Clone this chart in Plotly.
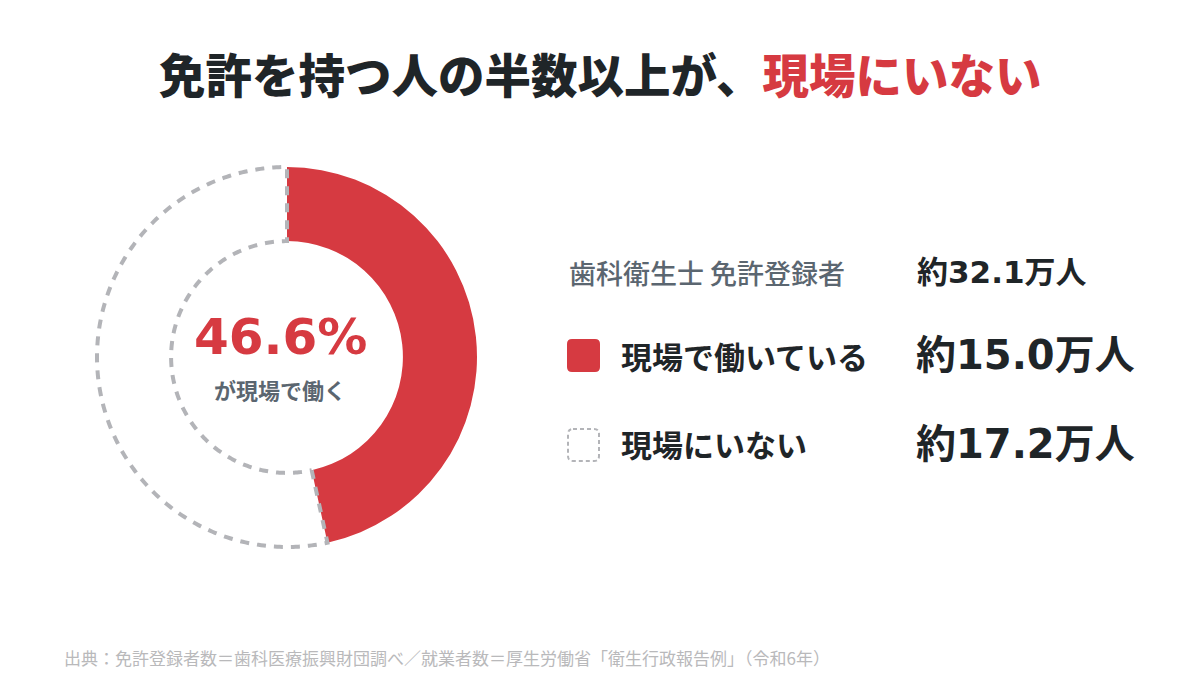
import numpy as np
import plotly.graph_objects as go

# ---- data ----
categories = ["現場で働いている", "現場にいない"]
values = [15.0, 17.2]                 # 万人
total_label = "歯科衛生士 免許登録者"
total_value = 32.1                    # 万人
share_pct = 46.6
center_caption = "が現場で働く"
title_main = "免許を持つ人の半数以上が、"
title_accent = "現場にいない"
source_note = "出典：免許登録者数＝歯科医療振興財団調べ／就業者数＝厚生労働省「衛生行政報告例」（令和6年）"

# ---- style ----
W, H = 1200, 700
RED = "#d63a41"
GRAY = "#b3b4b8"
DARK = "#1f2528"
SLATE = "#5b6670"
NOTE = "#b9b9bb"
CJK = "Noto Sans CJK JP"
NUM = "DejaVu Sans, Noto Sans CJK JP"

HOLE = 0.61
RMAX = 1.04
CX, CY, R = 287, 357, 190   # donut centre / outer radius in px


def px(x):
    return x / W


def py(y):
    return 1 - y / H


frac = values[0] / sum(values)
span = 360 * frac

fig = go.Figure()

# dashed outline of the "not working" slice
arc = np.linspace(span, 360, 240)
theta_outline = np.concatenate([[span], arc, arc[::-1], [span]])
r_outline = np.concatenate([[HOLE], np.full(arc.size, 1.0), np.full(arc.size, HOLE), [HOLE]])
fig.add_trace(go.Scatterpolar(
    r=r_outline, theta=theta_outline, mode="lines",
    line=dict(color=GRAY, width=4, dash="9px,8px"),
    hoverinfo="skip", showlegend=False,
))

# red slice: working share
fig.add_trace(go.Barpolar(
    r=[1 - HOLE], base=[HOLE], theta=[span / 2], width=[span],
    marker=dict(color=RED, line=dict(width=0)),
    hoverinfo="skip", showlegend=False, name=categories[0],
))

Rd = R * RMAX
fig.update_layout(
    width=W, height=H,
    margin=dict(l=0, r=0, t=0, b=0),
    paper_bgcolor="white", plot_bgcolor="white",
    showlegend=False,
    polar=dict(
        domain=dict(x=[px(CX - Rd), px(CX + Rd)], y=[py(CY + Rd), py(CY - Rd)]),
        bgcolor="rgba(0,0,0,0)",
        radialaxis=dict(range=[0, RMAX], visible=False),
        angularaxis=dict(visible=False, rotation=90, direction="clockwise"),
    ),
)


def rounded_rect(x0, y0, x1, y1, r):
    pts = [
        f"M {px(x0 + r)} {py(y0)}",
        f"L {px(x1 - r)} {py(y0)}",
        f"Q {px(x1)} {py(y0)} {px(x1)} {py(y0 + r)}",
        f"L {px(x1)} {py(y1 - r)}",
        f"Q {px(x1)} {py(y1)} {px(x1 - r)} {py(y1)}",
        f"L {px(x0 + r)} {py(y1)}",
        f"Q {px(x0)} {py(y1)} {px(x0)} {py(y1 - r)}",
        f"L {px(x0)} {py(y0 + r)}",
        f"Q {px(x0)} {py(y0)} {px(x0 + r)} {py(y0)}",
        "Z",
    ]
    return " ".join(pts)


fig.add_shape(type="path", xref="paper", yref="paper",
              path=rounded_rect(567, 339, 600, 372, 5),
              fillcolor=RED, line=dict(width=0))
fig.add_shape(type="path", xref="paper", yref="paper",
              path=rounded_rect(568, 429, 599, 461, 5),
              fillcolor="rgba(0,0,0,0)", line=dict(color=GRAY, width=2, dash="4px,3px"))

ann = []
ann.append(dict(x=px(600), y=py(72),
                text=f"{title_main}<span style='color:{RED}'>{title_accent}</span>",
                font=dict(family=CJK, size=46.5, color=DARK, weight=900)))
ann.append(dict(x=px(280), y=py(337), text=f"{share_pct:.1f}%",
                font=dict(family=NUM, size=50, color=RED, weight=700)))
ann.append(dict(x=px(280), y=py(389), text=center_caption,
                font=dict(family=CJK, size=22, color=SLATE, weight=700)))

ann.append(dict(x=px(567), y=py(272), xanchor="left", text=total_label,
                font=dict(family=CJK, size=27, color=SLATE, weight=500)))
ann.append(dict(x=px(915), y=py(272), xanchor="left", text=f"約{total_value:.1f}万人",
                font=dict(family=NUM, size=31, color=DARK, weight=700)))

rows_y = [355, 444]
for cat, val, yy in zip(categories, values, rows_y):
    ann.append(dict(x=px(619), y=py(yy), xanchor="left", text=cat,
                    font=dict(family=CJK, size=31, color=DARK, weight=700)))
    ann.append(dict(x=px(914), y=py(yy), xanchor="left", text=f"約{val:.1f}万人",
                    font=dict(family=NUM, size=40, color=DARK, weight=700)))

ann.append(dict(x=px(62), y=py(657), xanchor="left", text=source_note,
                font=dict(family=CJK, size=17, color=NOTE, weight=400)))

for a in ann:
    a.setdefault("xanchor", "center")
    a.update(xref="paper", yref="paper", yanchor="middle", showarrow=False)
fig.update_layout(annotations=ann)

fig.write_html("out.html", config={"displayModeBar": False},
               post_script="document.body.style.margin='0';")
